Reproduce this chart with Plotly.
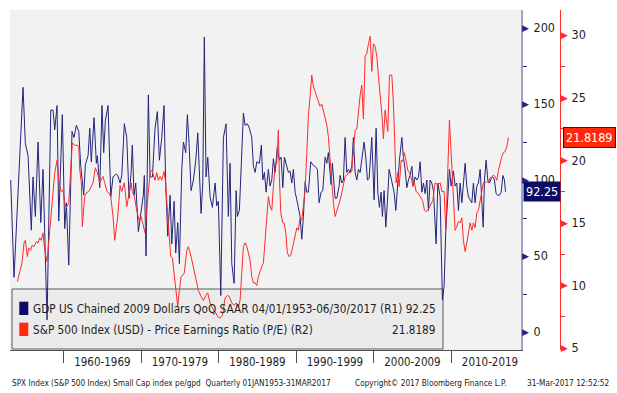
import plotly.graph_objects as go

# ---------------- data ----------------
gdp_t = [1953.17, 1953.6, 1954.76, 1955.06, 1955.41, 1955.83, 1956.05, 1956.35, 1956.7, 1957.05,
         1957.34, 1957.86, 1958.34, 1958.63, 1958.85, 1959.15, 1959.37, 1959.83, 1960.14, 1960.35,
         1960.66, 1961.08, 1961.34, 1961.64, 1961.95, 1962.21, 1962.59, 1962.8, 1963.15, 1963.37,
         1963.57, 1963.92, 1964.22, 1964.35, 1964.66, 1964.95, 1965.17, 1965.38, 1965.73, 1966.08,
         1966.37, 1966.8, 1966.98, 1967.28, 1967.5, 1967.83, 1968.14, 1968.44, 1968.7, 1968.86,
         1969.08, 1969.3, 1969.64, 1969.99, 1970.28, 1970.41, 1970.63, 1970.93, 1971.15, 1971.45,
         1971.79, 1972.09, 1972.35, 1972.66, 1972.95, 1973.17, 1973.43, 1973.73, 1973.95, 1974.25,
         1974.46, 1974.72, 1974.93, 1975.24, 1975.45, 1975.75, 1975.96, 1976.18, 1976.44, 1976.74,
         1977.05, 1977.3, 1977.51, 1977.73, 1977.95, 1978.15, 1978.37, 1978.59, 1978.89, 1979.19,
         1979.54, 1979.75, 1979.96, 1980.27, 1980.61, 1980.83, 1980.95, 1981.25, 1981.47, 1981.69,
         1981.99, 1982.25, 1982.41, 1982.67, 1982.98, 1983.19, 1983.41, 1983.7, 1983.96, 1984.27,
         1984.48, 1984.7, 1984.92, 1985.25, 1985.51, 1985.69, 1985.9, 1986.12, 1986.41, 1986.63,
         1986.85, 1987.06, 1987.28, 1987.57, 1987.83, 1988.05, 1988.27, 1988.48, 1988.79, 1988.99,
         1989.21, 1989.43, 1989.64, 1989.86, 1990.08, 1990.28, 1990.5, 1990.72, 1990.93, 1991.15,
         1991.37, 1991.57, 1991.88, 1992.14, 1992.44, 1992.74, 1992.95, 1993.21, 1993.43, 1993.73,
         1993.95, 1994.15, 1994.5, 1994.67, 1995.02, 1995.24, 1995.54, 1995.66, 1995.88, 1996.09,
         1996.31, 1996.53, 1996.74, 1996.95, 1997.17, 1997.38, 1997.6, 1997.82, 1998.03, 1998.25,
         1998.46, 1998.76, 1998.98, 1999.19, 1999.41, 1999.75, 2000.05, 2000.31, 2000.53, 2000.74,
         2000.95, 2001.12, 2001.34, 2001.56, 2001.77, 2001.99, 2002.21, 2002.41, 2002.63, 2002.85,
         2003.11, 2003.32, 2003.63, 2003.83, 2004.05, 2004.27, 2004.48, 2004.7, 2004.92, 2005.12,
         2005.34, 2005.56, 2005.77, 2005.99, 2006.21, 2006.41, 2006.63, 2006.85, 2007.06, 2007.28,
         2007.5, 2007.7, 2008.05, 2008.27, 2008.57, 2008.86, 2009.08, 2009.3, 2009.56, 2009.77,
         2009.99, 2010.28, 2010.5, 2010.72, 2010.93, 2011.15, 2011.37, 2011.57, 2011.79, 2012.01,
         2012.22, 2012.44, 2012.66, 2012.86, 2013.08, 2013.3, 2013.51, 2013.73, 2013.95, 2014.12,
         2014.29, 2014.5, 2014.72, 2014.93, 2015.15, 2015.37, 2015.57, 2015.79, 2016.01, 2016.22,
         2016.44, 2016.66, 2016.86, 2017.0]
gdp_v = [100, 36, 161, 124, 116, 67, 102, 76, 125, 72,
         107, 8, 146, 146, 133, 149, 73, 143, 68, 85,
         44, 132, 128, 136, 132, 109, 90, 110, 116, 134,
         112, 141, 111, 116, 95, 149, 118, 139, 149, 89,
         102, 104, 103, 98, 103, 137, 128, 88, 105, 123,
         90, 98, 66, 80, 90, 103, 50, 156, 102, 102,
         134, 145, 113, 128, 149, 97, 63, 90, 58, 86,
         52, 72, 45, 107, 125, 118, 143, 124, 93, 100,
         113, 131, 103, 78, 98, 194, 102, 115, 89, 82,
         98, 83, 86, 24, 128, 135, 137, 76, 111, 45,
         32, 93, 76, 80, 118, 144, 136, 137, 134, 128,
         109, 105, 112, 111, 123, 100, 105, 92, 107, 96,
         100, 114, 105, 122, 113, 115, 95, 115, 109, 105,
         106, 98, 107, 92, 87, 82, 76, 61, 76, 99,
         92, 92, 112, 110, 109, 107, 85, 92, 93, 115,
         111, 118, 97, 111, 88, 88, 96, 103, 98, 100,
         128, 105, 107, 105, 109, 128, 105, 100, 107, 105,
         113, 125, 115, 100, 101, 128, 87, 134, 92, 82,
         92, 76, 93, 69, 86, 107, 102, 98, 92, 80,
         102, 113, 128, 115, 107, 95, 100, 103, 109, 96,
         102, 100, 102, 112, 92, 98, 91, 100, 80, 100,
         98, 93, 58, 98, 89, 21, 30, 67, 89, 107,
         96, 106, 96, 98, 80, 98, 85, 98, 111, 96,
         89, 87, 85, 98, 85, 96, 98, 107, 87, 69,
         100, 113, 100, 98, 101, 102, 100, 91, 90, 90,
         92, 103, 100, 92.25]

pe_t = [1954.03, 1954.34, 1954.63, 1954.89, 1955.06, 1955.32, 1955.5, 1955.75, 1955.92, 1956.18,
        1956.48, 1956.7, 1956.92, 1957.12, 1957.34, 1957.56, 1957.86, 1958.21, 1958.54, 1958.85,
        1959.15, 1959.41, 1959.7, 1959.92, 1960.14, 1960.35, 1960.66, 1960.92, 1961.12, 1961.43,
        1961.73, 1961.95, 1962.08, 1962.28, 1962.41, 1962.72, 1962.93, 1963.24, 1963.5, 1963.79,
        1964.09, 1964.35, 1964.66, 1964.86, 1965.08, 1965.3, 1965.6, 1965.82, 1966.08, 1966.37,
        1966.59, 1966.98, 1967.28, 1967.5, 1967.83, 1968.14, 1968.44, 1968.7, 1968.86, 1969.12,
        1969.43, 1969.73, 1969.99, 1970.28, 1970.5, 1970.72, 1970.93, 1971.15, 1971.37, 1971.57,
        1971.79, 1972.01, 1972.22, 1972.44, 1972.66, 1972.95, 1973.17, 1973.38, 1973.6, 1973.82,
        1974.03, 1974.25, 1974.46, 1974.72, 1974.93, 1975.15, 1975.37, 1975.57, 1975.88, 1976.09,
        1976.44, 1976.74, 1977.05, 1977.38, 1977.73, 1978.03, 1978.34, 1978.59, 1978.89, 1979.19,
        1979.54, 1979.88, 1980.18, 1980.48, 1980.83, 1981.12, 1981.38, 1981.69, 1981.99, 1982.25,
        1982.54, 1982.76, 1982.98, 1983.19, 1983.41, 1983.63, 1983.83, 1984.05, 1984.27, 1984.48,
        1984.7, 1984.92, 1985.12, 1985.34, 1985.56, 1985.77, 1985.99, 1986.21, 1986.41, 1986.63,
        1986.85, 1987.06, 1987.28, 1987.5, 1987.7, 1987.83, 1988.01, 1988.27, 1988.44, 1988.66,
        1988.86, 1989.08, 1989.3, 1989.56, 1989.86, 1990.08, 1990.28, 1990.5, 1990.72, 1990.93,
        1991.15, 1991.37, 1991.57, 1991.79, 1992.01, 1992.21, 1992.44, 1992.66, 1992.86, 1993.08,
        1993.3, 1993.51, 1993.73, 1993.95, 1994.15, 1994.37, 1994.59, 1994.8, 1995.02, 1995.24,
        1995.44, 1995.66, 1995.88, 1996.09, 1996.31, 1996.53, 1996.74, 1996.95, 1997.17, 1997.38,
        1997.6, 1997.82, 1998.03, 1998.25, 1998.46, 1998.67, 1998.89, 1999.1, 1999.32, 1999.54,
        1999.75, 1999.96, 2000.18, 2000.4, 2000.61, 2000.83, 2001.05, 2001.25, 2001.47, 2001.69,
        2001.82, 2002.03, 2002.34, 2002.54, 2002.76, 2002.89, 2003.11, 2003.28, 2003.54, 2003.75,
        2003.96, 2004.18, 2004.4, 2004.61, 2004.83, 2005.05, 2005.25, 2005.47, 2005.69, 2005.9,
        2006.12, 2006.34, 2006.54, 2006.76, 2006.98, 2007.19, 2007.41, 2007.63, 2007.92, 2008.27,
        2008.57, 2008.79, 2009.08, 2009.3, 2009.77, 2010.08, 2010.28, 2010.5, 2010.72, 2010.93,
        2011.15, 2011.37, 2011.57, 2011.79, 2012.01, 2012.22, 2012.44, 2012.66, 2012.86, 2013.08,
        2013.3, 2013.51, 2013.73, 2013.95, 2014.15, 2014.37, 2014.59, 2014.8, 2015.02, 2015.24,
        2015.44, 2015.66, 2015.88, 2016.09, 2016.31, 2016.53, 2016.73, 2016.95, 2017.17, 2017.38]
pe_v = [10.3, 11.0, 11.8, 13.4, 13.6, 12.3, 13.0, 12.8, 13.2, 13.1,
        13.5, 13.4, 13.8, 13.6, 14.2, 12.8, 11.9, 14.4, 17.1, 19.0,
        20.0, 18.2, 17.5, 17.6, 16.6, 16.2, 16.6, 19.8, 21.4, 21.2,
        21.2, 21.1, 19.2, 18.2, 14.7, 17.1, 17.4, 17.5, 17.9, 18.2,
        19.4, 19.0, 18.2, 18.4, 18.7, 18.2, 17.5, 17.4, 17.1, 15.5,
        13.6, 15.5, 18.0, 17.5, 18.2, 16.3, 17.5, 18.2, 17.5, 17.1,
        16.0, 15.2, 15.5, 14.7, 14.2, 16.0, 17.5, 19.0, 19.2, 18.8,
        18.4, 19.0, 18.4, 18.7, 18.4, 19.1, 18.2, 16.0, 13.9, 12.3,
        12.2, 11.0, 9.4, 8.3, 9.6, 10.7, 10.8, 11.0, 12.8, 13.1,
        12.3, 11.5, 10.7, 9.6, 9.1, 8.8, 9.2, 9.4, 8.6, 8.2,
        7.9, 7.5, 7.4, 7.6, 9.0, 9.2, 9.1, 8.6, 8.4, 8.6,
        8.3, 8.8, 11.0, 13.1, 13.4, 13.1, 12.6, 12.0, 10.7, 10.2,
        10.2, 10.0, 10.7, 11.2, 11.5, 11.8, 13.4, 15.0, 17.1, 16.3,
        16.0, 17.9, 19.5, 19.8, 22.4, 18.7, 15.8, 15.0, 15.0, 14.2,
        12.6, 12.3, 12.4, 13.1, 13.9, 14.6, 14.4, 15.4, 15.2, 16.3,
        17.6, 20.6, 23.5, 25.1, 26.8, 25.9, 25.5, 25.1, 24.7, 24.3,
        24.5, 24.0, 23.5, 22.8, 21.9, 20.0, 18.2, 16.6, 15.5, 15.9,
        16.3, 16.8, 17.4, 18.2, 18.7, 18.8, 19.0, 19.0, 19.1, 20.8,
        22.4, 22.5, 24.0, 25.2, 26.0, 23.3, 28.3, 28.5, 29.3, 29.9,
        27.1, 29.3, 29.1, 28.3, 26.7, 25.3, 23.7, 21.7, 24.0, 22.9,
        22.3, 26.8, 26.8, 24.5, 21.3, 18.2, 19.0, 17.9, 20.0, 19.9,
        20.6, 20.0, 19.2, 19.0, 18.6, 17.9, 18.2, 17.5, 17.4, 17.2,
        17.0, 16.7, 16.0, 15.9, 16.0, 16.3, 16.6, 16.8, 18.2, 18.0,
        18.2, 17.5, 17.5, 14.4, 23.2, 19.2, 17.1, 14.4, 14.7, 15.1,
        15.0, 15.4, 13.6, 12.7, 13.4, 14.3, 15.0, 14.4, 15.0, 14.6,
        15.8, 16.0, 16.8, 17.6, 18.2, 18.2, 18.3, 18.2, 18.6, 18.7,
        18.8, 18.7, 18.4, 19.2, 19.8, 20.3, 20.6, 20.7, 21.1, 21.8189]

decade_labels = ["1960-1969", "1970-1979", "1980-1989", "1990-1999", "2000-2009", "2010-2019"]
decade_centers = [1965, 1975, 1985, 1995, 2005, 2015]
decade_edges = [1960, 1970, 1980, 1990, 2000, 2010]
gdp_ticks = [0, 50, 100, 150, 200]
pe_ticks = [5, 10, 15, 20, 25, 30]
gdp_last = 92.25
pe_last = 21.8189

legend_gdp = "GDP US Chained 2009 Dollars QoQ SAAR 04/01/1953-06/30/2017 (R1) 92.25"
legend_pe = "S&P 500 Index (USD) - Price Earnings Ratio (P/E) (R2)"
footer_left = "SPX Index (S&P 500 Index) Small Cap index pe/gpd  Quarterly 01JAN1953-31MAR2017"
footer_mid = "Copyright\u00a9 2017 Bloomberg Finance L.P."
footer_right = "31-Mar-2017 12:52:52"

# ---------------- style ----------------
NAVY = "#24247c"
RED = "#ff2b2b"
FONT = "DejaVu Sans Condensed, Liberation Sans Narrow, Liberation Sans, sans-serif"
XD = 511 / 550  # x-domain end (left y-axis position)

fig = go.Figure()
fig.add_trace(go.Scatter(x=gdp_t, y=gdp_v, mode="lines", yaxis="y",
                         line=dict(color=NAVY, width=1), hoverinfo="skip"))
fig.add_trace(go.Scatter(x=pe_t, y=pe_v, mode="lines", yaxis="y2",
                         line=dict(color=RED, width=1), hoverinfo="skip"))

tickfont = dict(family=FONT, size=12.5, color="#1e1e1e")
xtickfont = dict(family=FONT, size=11.5, color="#1e1e1e")

fig.update_layout(
    width=617, height=393,
    margin=dict(l=10, r=57, t=10, b=43),
    paper_bgcolor="white", plot_bgcolor="#f2f2f2",
    showlegend=False,
    xaxis=dict(domain=[0, XD], range=[1953.08, 2019.0], showgrid=False, zeroline=False,
               showline=True, linecolor="#505050", linewidth=1,
               tickmode="array", tickvals=decade_centers, ticktext=decade_labels,
               ticks="outside", ticklen=1, tickcolor="rgba(0,0,0,0)", tickfont=xtickfont,
               minor=dict(tickmode="array", tickvals=decade_edges, ticks="outside",
                          ticklen=12, tickcolor="#505050", tickwidth=1)),
    yaxis=dict(side="right", anchor="x", range=[-11.84, 211.84], showgrid=False, zeroline=False,
               showline=True, linecolor="#a4a4c8", linewidth=2,
               tickmode="array", tickvals=gdp_ticks, ticks="outside", ticklen=8,
               tickcolor="rgba(0,0,0,0)", tickfont=tickfont,
               minor=dict(tickmode="linear", tick0=0, dtick=25, ticks="outside",
                          ticklen=4, tickcolor=NAVY, tickwidth=1)),
    yaxis2=dict(overlaying="y", side="right", anchor="free", position=1.0,
                range=[4.84, 32.0], showgrid=False, zeroline=False,
                showline=True, linecolor=RED, linewidth=1,
                tickmode="array", tickvals=pe_ticks, ticks="outside", ticklen=8,
                tickcolor="rgba(0,0,0,0)", tickfont=tickfont,
                minor=dict(tickmode="linear", tick0=0, dtick=2.5, ticks="outside",
                           ticklen=4, tickcolor=RED, tickwidth=1)),
)

ann = []
# triangle tick markers
for v in gdp_ticks:
    ann.append(dict(x=XD, xref="paper", y=v, yref="y", text="\u25b6", showarrow=False,
                    xanchor="left", yanchor="middle", xshift=-1,
                    font=dict(size=9, color=NAVY, family="DejaVu Sans")))
for v in pe_ticks:
    ann.append(dict(x=1.0, xref="paper", y=v, yref="y2", text="\u25b6", showarrow=False,
                    xanchor="left", yanchor="middle", xshift=-1,
                    font=dict(size=9, color=RED, family="DejaVu Sans")))
# last value boxes
ann.append(dict(x=XD, xref="paper", y=gdp_last, yref="y", text=f"{gdp_last:.2f}", showarrow=False,
                xanchor="left", yanchor="middle", xshift=2, bgcolor="#0c0c64", borderpad=2,
                font=dict(family=FONT, size=12.5, color="white")))
ann.append(dict(x=1.0, xref="paper", y=pe_last, yref="y2", text=f"{pe_last:.4f}", showarrow=False,
                xanchor="left", yanchor="middle", xshift=3, bgcolor="#ff2a0c", borderpad=2,
                bordercolor="#3a1a10", borderwidth=1,
                font=dict(family=FONT, size=12.5, color="white")))
# legend texts
ann.append(dict(x=21 / 511, xref="x domain", y=41 / 340, yref="y domain", text=legend_gdp,
                showarrow=False, xanchor="left", yanchor="middle",
                font=dict(family=FONT, size=11.7, color="#1e1e1e")))
ann.append(dict(x=21 / 511, xref="x domain", y=20 / 340, yref="y domain", text=legend_pe,
                showarrow=False, xanchor="left", yanchor="middle",
                font=dict(family=FONT, size=11.7, color="#1e1e1e")))
ann.append(dict(x=427 / 511, xref="x domain", y=20 / 340, yref="y domain", text=f"{pe_last:.4f}",
                showarrow=False, xanchor="right", yanchor="middle",
                font=dict(family=FONT, size=11.7, color="#1e1e1e")))
# footer
for x, txt in [(0.0, footer_left), (343 / 550, footer_mid), (515 / 550, footer_right)]:
    ann.append(dict(x=x, xref="paper", y=-33 / 340, yref="paper", text=txt, showarrow=False,
                    xanchor="left", yanchor="middle",
                    font=dict(family=FONT, size=8.2, color="#222")))
fig.update_layout(annotations=ann)

shapes = [
    dict(type="rect", xref="x domain", yref="y domain", x0=2 / 511, x1=433 / 511,
         y0=1 / 340, y1=61 / 340, layer="below", fillcolor="#ebebeb",
         line=dict(color="#5a5a5a", width=1)),
    dict(type="rect", xref="x domain", yref="y domain", x0=9.3 / 511, x1=18.3 / 511,
         y0=35 / 340, y1=48.3 / 340, fillcolor="#0c0c64", line=dict(width=0)),
    dict(type="rect", xref="x domain", yref="y domain", x0=9.3 / 511, x1=18.3 / 511,
         y0=14 / 340, y1=27.3 / 340, fillcolor="#ff2a0c", line=dict(width=0)),
]
fig.update_layout(shapes=shapes)

fig.write_html("out.html", config={"displayModeBar": False},
               post_script="document.body.style.margin='0';")
